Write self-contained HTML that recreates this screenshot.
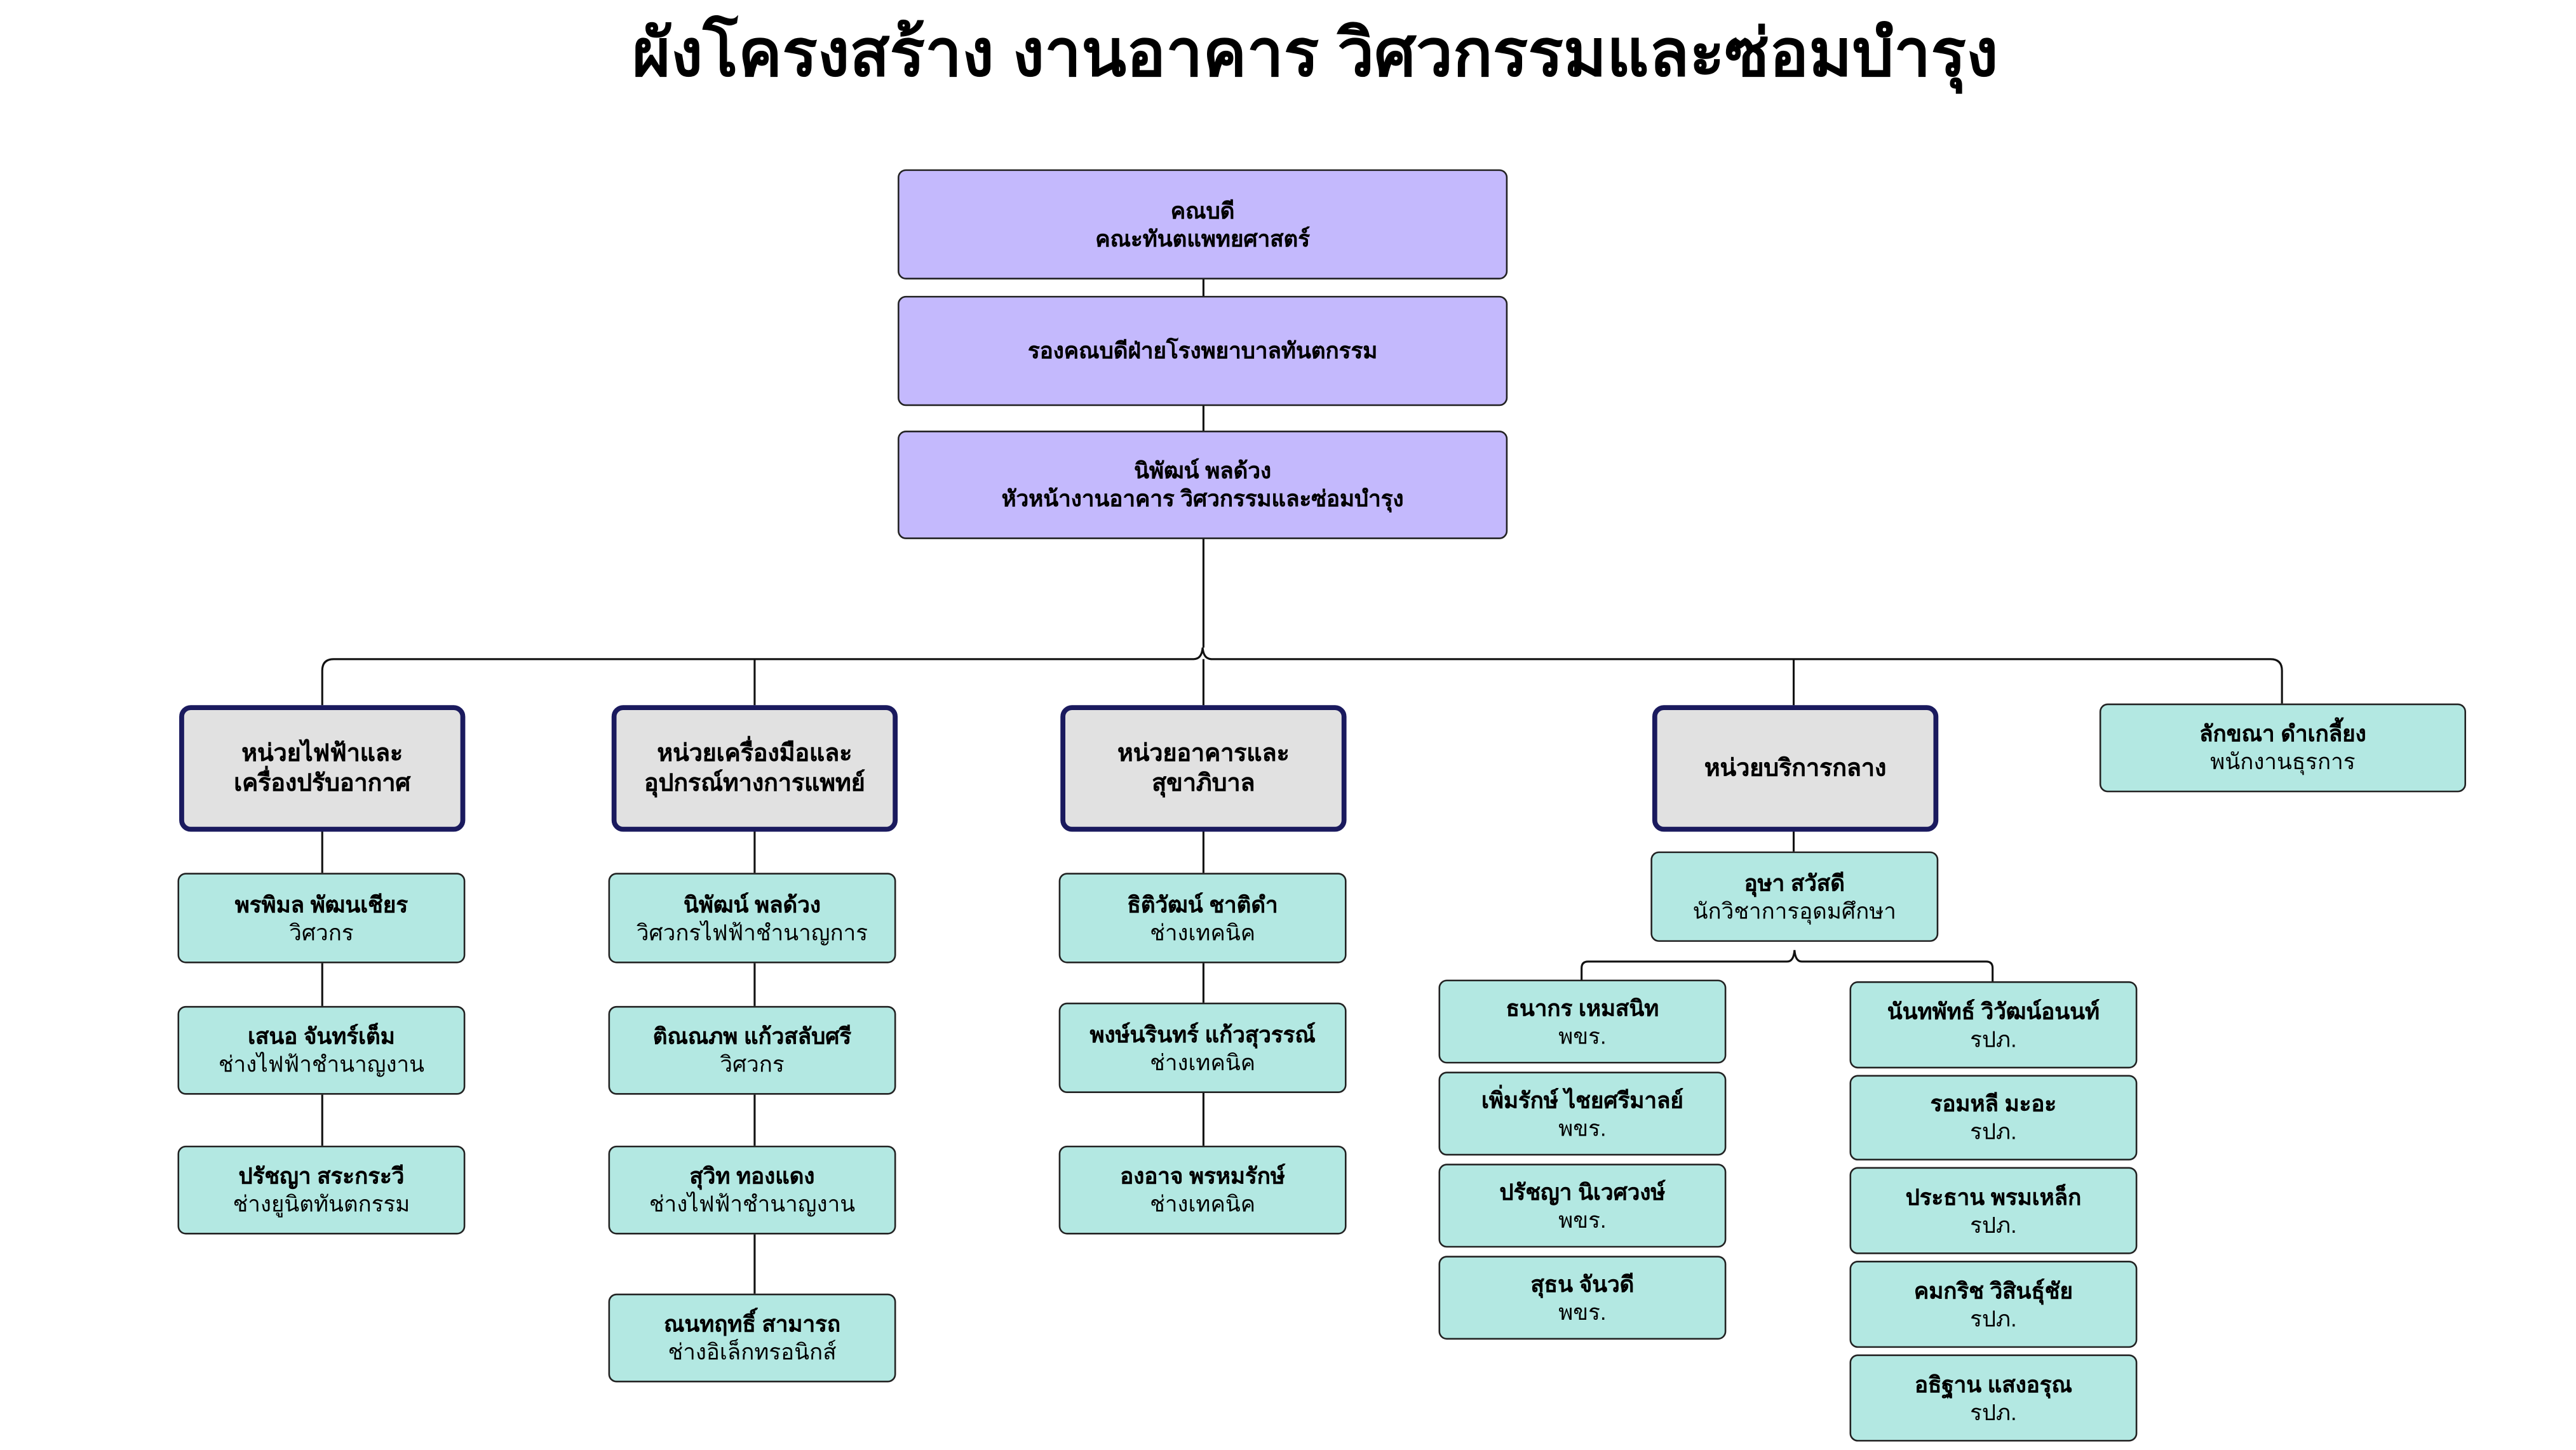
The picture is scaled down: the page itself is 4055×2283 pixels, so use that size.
<!DOCTYPE html>
<html><head><meta charset="utf-8"><style>
html,body{margin:0;padding:0;background:#fff;}
body{width:4055px;height:2281px;overflow:hidden;position:relative;}
#w{position:absolute;left:0;top:0;width:1570px;height:882px;transform:scale(2.588);transform-origin:0 0;font-family:"Liberation Sans","Noto Sans CJK SC",sans-serif;color:#000;}
.b{position:absolute;box-sizing:border-box;display:flex;flex-direction:column;align-items:center;justify-content:center;text-align:center;font-size:13.5px;line-height:17px;border:1px solid #222;border-radius:5px;}
.p{background:#c4b9fd;font-weight:bold;}
.u{background:#e1e1e1;border:3.5px solid #1a1a5e;border-radius:7px;font-weight:bold;font-size:14.5px;line-height:18px;}
.t{background:#b3e8e2;}
.t b{font-weight:bold;}
</style></head><body><div id="w">
<div style="position:absolute;left:0;width:1600px;top:8px;text-align:center;font-size:40px;font-weight:bold;line-height:50px;">ผังโครงสร้าง งานอาคาร วิศวกรรมและซ่อมบำรุง</div>

<svg style="position:absolute;left:0;top:0" width="1570" height="882">
<g fill="none" stroke="#111" stroke-width="1.2">
<path d="M732 170 V394"/>
<path d="M196 429 V408 Q196 401 203 401 H726 Q731 401 731.5 394 Q732 401 737 401 H1381 Q1388 401 1388 408 V428"/>
<path d="M459 401 V429 M1091 401 V429 M732 401 V429"/>
<path d="M962 596 V589 Q962 585 966 585 H1087 Q1091 585 1091.5 578 Q1092 585 1096 585 H1208 Q1212 585 1212 589 V597"/>
<path d="M1091 506 V518"/>
<path d="M196 506 V531 M196 586 V612 M196 666 V697"/>
<path d="M459 506 V531 M459 586 V612 M459 666 V697 M459 751 V787"/>
<path d="M732 506 V531 M732 586 V610 M732 665 V697"/>
</g></svg>

<div class="b p" style="left:546px;top:103px;width:371px;height:67px">คณบดี<br>คณะทันตแพทยศาสตร์</div>
<div class="b p" style="left:546px;top:180px;width:371px;height:67px">รองคณบดีฝ่ายโรงพยาบาลทันตกรรม</div>
<div class="b p" style="left:546px;top:262px;width:371px;height:66px">นิพัฒน์ พลด้วง<br>หัวหน้างานอาคาร วิศวกรรมและซ่อมบำรุง</div>

<div class="b u" style="left:109px;top:429px;width:174px;height:77px">หน่วยไฟฟ้าและ<br>เครื่องปรับอากาศ</div>
<div class="b u" style="left:372px;top:429px;width:174px;height:77px">หน่วยเครื่องมือและ<br>อุปกรณ์ทางการแพทย์</div>
<div class="b u" style="left:645px;top:429px;width:174px;height:77px">หน่วยอาคารและ<br>สุขาภิบาล</div>
<div class="b u" style="left:1005px;top:429px;width:174px;height:77px">หน่วยบริการกลาง</div>
<div class="b t" style="left:1277px;top:428px;width:223px;height:54px"><b>ลักขณา ดำเกลี้ยง</b>พนักงานธุรการ</div>

<div class="b t" style="left:108px;top:531px;width:175px;height:55px"><b>พรพิมล  พัฒนเชียร</b>วิศวกร</div>
<div class="b t" style="left:108px;top:612px;width:175px;height:54px"><b>เสนอ จันทร์เต็ม</b>ช่างไฟฟ้าชำนาญงาน</div>
<div class="b t" style="left:108px;top:697px;width:175px;height:54px"><b>ปรัชญา สระกระวี</b>ช่างยูนิตทันตกรรม</div>

<div class="b t" style="left:370px;top:531px;width:175px;height:55px"><b>นิพัฒน์ พลด้วง</b>วิศวกรไฟฟ้าชำนาญการ</div>
<div class="b t" style="left:370px;top:612px;width:175px;height:54px"><b>ติณณภพ แก้วสลับศรี</b>วิศวกร</div>
<div class="b t" style="left:370px;top:697px;width:175px;height:54px"><b>สุวิท ทองแดง</b>ช่างไฟฟ้าชำนาญงาน</div>
<div class="b t" style="left:370px;top:787px;width:175px;height:54px"><b>ณนทฤทธิ์ สามารถ</b>ช่างอิเล็กทรอนิกส์</div>

<div class="b t" style="left:644px;top:531px;width:175px;height:55px"><b>ธิติวัฒน์ ชาติดำ</b>ช่างเทคนิค</div>
<div class="b t" style="left:644px;top:610px;width:175px;height:55px"><b>พงษ์นรินทร์ แก้วสุวรรณ์</b>ช่างเทคนิค</div>
<div class="b t" style="left:644px;top:697px;width:175px;height:54px"><b>องอาจ พรหมรักษ์</b>ช่างเทคนิค</div>

<div class="b t" style="left:1004px;top:518px;width:175px;height:55px"><b>อุษา สวัสดี</b>นักวิชาการอุดมศึกษา</div>

<div class="b t" style="left:875px;top:596px;width:175px;height:51px"><b>ธนากร  เหมสนิท</b>พขร.</div>
<div class="b t" style="left:875px;top:652px;width:175px;height:51px"><b>เพิ่มรักษ์ ไชยศรีมาลย์</b>พขร.</div>
<div class="b t" style="left:875px;top:708px;width:175px;height:51px"><b>ปรัชญา นิเวศวงษ์</b>พขร.</div>
<div class="b t" style="left:875px;top:764px;width:175px;height:51px"><b>สุธน จันวดี</b>พขร.</div>

<div class="b t" style="left:1125px;top:597px;width:175px;height:53px"><b>นันทพัทธ์  วิวัฒน์อนนท์</b>รปภ.</div>
<div class="b t" style="left:1125px;top:654px;width:175px;height:52px"><b>รอมหลี มะอะ</b>รปภ.</div>
<div class="b t" style="left:1125px;top:710px;width:175px;height:53px"><b>ประธาน พรมเหล็ก</b>รปภ.</div>
<div class="b t" style="left:1125px;top:767px;width:175px;height:53px"><b>คมกริช วิสินธุ์ชัย</b>รปภ.</div>
<div class="b t" style="left:1125px;top:824px;width:175px;height:53px"><b>อธิฐาน แสงอรุณ</b>รปภ.</div>
</div></body></html>
